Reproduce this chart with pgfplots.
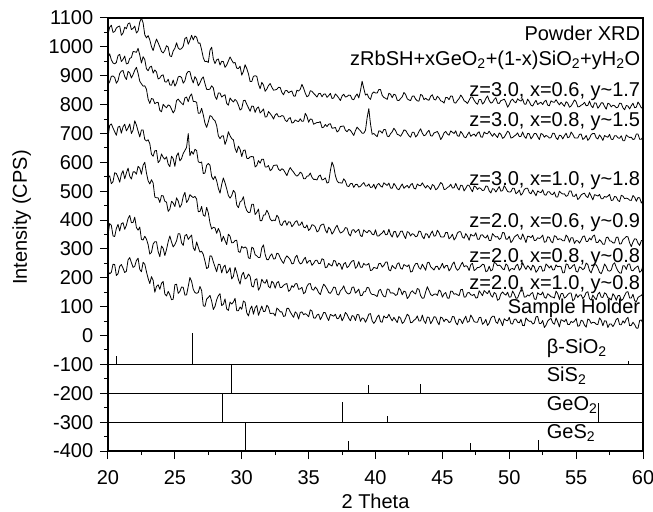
\documentclass[border=0pt]{standalone}
\usepackage{pgfplots}
\pgfplotsset{compat=1.18}
\usepackage{fontspec}
\setmainfont{Liberation Sans}
\begin{document}
\fontsize{20bp}{24bp}\selectfont
\begin{tikzpicture}
\begin{axis}[
  scale only axis, width=535bp, height=433bp,
  xmin=20, xmax=60, ymin=-400, ymax=1100,
  xtick={20,25,...,60}, ytick={-400,-300,...,1100},
  minor x tick num=1, minor y tick num=1,
  tick align=outside, tick pos=left,
  major tick length=8bp, minor tick length=4bp,
  axis line style={line width=1.3bp},
  every tick/.style={black, line width=1bp},
  /pgf/number format/assume math mode=true,
  /pgf/number format/1000 sep={},
  font=\fontsize{20bp}{24bp}\selectfont,
  xticklabel shift=5bp,
  xlabel={2 Theta}, ylabel={Intensity (CPS)},
  ylabel style={xshift=17bp, yshift=4bp},
  xlabel style={yshift=-1bp, inner sep=1bp},
  every axis plot/.append style={line join=round},
]
\coordinate (BL) at (rel axis cs:0,0);
\coordinate (TR) at (rel axis cs:1,1);
% curve 1: z=3.0, x=0.6
\addplot[black, line width=0.8bp] coordinates {(20,1043)(20.125,1068)(20.25,1075)(20.375,1050)(20.5,1053)(20.625,1065)(20.75,1070)(20.875,1072)(21,1040)(21.125,1048)(21.25,1068)(21.375,1063)(21.5,1080)(21.625,1083)(21.75,1060)(21.875,1064)(22,1072)(22.125,1048)(22.25,1055)(22.375,1086)(22.5,1100)(22.625,1083)(22.75,1042)(22.875,1031)(23,1039)(23.125,1024)(23.25,1001)(23.375,987)(23.5,1009)(23.625,1027)(23.75,1014)(23.875,1000)(24,984)(24.125,979)(24.25,988)(24.375,1004)(24.5,999)(24.625,969)(24.75,966)(24.875,986)(25,995)(25.125,1014)(25.25,996)(25.375,991)(25.5,994)(25.625,1002)(25.75,1029)(25.875,1033)(26,1009)(26.125,1023)(26.25,1040)(26.375,1024)(26.5,1038)(26.625,1033)(26.75,1013)(26.875,1013)(27,990)(27.125,962)(27.25,949)(27.375,950)(27.5,946)(27.625,988)(27.75,999)(27.875,958)(28,942)(28.125,955)(28.25,958)(28.375,937)(28.5,950)(28.625,949)(28.75,929)(28.875,937)(29,951)(29.125,965)(29.25,954)(29.375,944)(29.5,946)(29.625,926)(29.75,925)(29.875,933)(30,902)(30.125,915)(30.25,938)(30.375,925)(30.5,907)(30.625,880)(30.75,880)(30.875,898)(31,900)(31.125,898)(31.25,871)(31.375,855)(31.5,877)(31.625,868)(31.75,846)(31.875,854)(32,866)(32.125,873)(32.25,860)(32.375,850)(32.5,851)(32.625,853)(32.75,860)(32.875,859)(33,842)(33.125,834)(33.25,848)(33.375,849)(33.5,841)(33.625,845)(33.75,847)(33.875,830)(34,829)(34.125,850)(34.25,847)(34.375,853)(34.5,870)(34.625,857)(34.75,839)(34.875,827)(35,831)(35.125,848)(35.25,846)(35.375,839)(35.5,833)(35.625,826)(35.75,838)(35.875,839)(36,827)(36.125,836)(36.25,837)(36.375,825)(36.5,831)(36.625,839)(36.75,821)(36.875,823)(37,837)(37.125,831)(37.25,823)(37.375,814)(37.5,830)(37.625,836)(37.75,826)(37.875,828)(38,833)(38.125,832)(38.25,819)(38.375,817)(38.5,829)(38.625,837)(38.75,823)(38.875,848)(39,881)(39.125,856)(39.25,833)(39.375,837)(39.5,824)(39.625,818)(39.75,838)(39.875,844)(40,840)(40.125,840)(40.25,852)(40.375,852)(40.5,832)(40.625,825)(40.75,822)(40.875,818)(41,839)(41.125,836)(41.25,824)(41.375,836)(41.5,833)(41.625,815)(41.75,814)(41.875,821)(42,827)(42.125,842)(42.25,835)(42.375,820)(42.5,816)(42.625,814)(42.75,829)(42.875,830)(43,819)(43.125,813)(43.25,812)(43.375,835)(43.5,832)(43.625,817)(43.75,822)(43.875,817)(44,815)(44.125,829)(44.25,834)(44.375,818)(44.5,816)(44.625,829)(44.75,823)(44.875,813)(45,811)(45.125,805)(45.25,825)(45.375,824)(45.5,817)(45.625,830)(45.75,829)(45.875,807)(46,805)(46.125,814)(46.25,821)(46.375,833)(46.5,825)(46.625,813)(46.75,810)(46.875,804)(47,815)(47.125,826)(47.25,826)(47.375,815)(47.5,806)(47.625,801)(47.75,818)(47.875,818)(48,802)(48.125,808)(48.25,821)(48.375,830)(48.5,814)(48.625,805)(48.75,808)(48.875,818)(49,824)(49.125,805)(49.25,804)(49.375,814)(49.5,816)(49.625,819)(49.75,808)(49.875,791)(50,800)(50.125,814)(50.25,819)(50.375,810)(50.5,806)(50.625,820)(50.75,815)(50.875,812)(51,820)(51.125,802)(51.25,801)(51.375,819)(51.5,810)(51.625,798)(51.75,795)(51.875,806)(52,815)(52.125,800)(52.25,805)(52.375,808)(52.5,800)(52.625,811)(52.75,815)(52.875,798)(53,796)(53.125,813)(53.25,809)(53.375,808)(53.5,817)(53.625,807)(53.75,799)(53.875,808)(54,801)(54.125,794)(54.25,810)(54.375,805)(54.5,791)(54.625,795)(54.75,805)(54.875,816)(55,810)(55.125,792)(55.25,793)(55.375,798)(55.5,801)(55.625,808)(55.75,796)(55.875,797)(56,812)(56.125,796)(56.25,789)(56.375,806)(56.5,805)(56.625,787)(56.75,795)(56.875,806)(57,806)(57.125,794)(57.25,784)(57.375,805)(57.5,802)(57.625,792)(57.75,798)(57.875,796)(58,789)(58.125,791)(58.25,805)(58.375,804)(58.5,789)(58.625,782)(58.75,797)(58.875,795)(59,785)(59.125,796)(59.25,805)(59.375,789)(59.5,791)(59.625,809)(59.75,800)(59.875,789)(60,787)};
% curve 2: z=3.0, x=0.8
\addplot[black, line width=0.8bp] coordinates {(20,962)(20.125,976)(20.25,955)(20.375,944)(20.5,941)(20.625,946)(20.75,970)(20.875,974)(21,949)(21.125,957)(21.25,968)(21.375,941)(21.5,943)(21.625,960)(21.75,963)(21.875,984)(22,983)(22.125,981)(22.25,995)(22.375,972)(22.5,944)(22.625,966)(22.75,956)(22.875,924)(23,917)(23.125,930)(23.25,933)(23.375,909)(23.5,920)(23.625,913)(23.75,889)(23.875,892)(24,901)(24.125,903)(24.25,879)(24.375,878)(24.5,888)(24.625,868)(24.75,867)(24.875,885)(25,864)(25.125,875)(25.25,896)(25.375,898)(25.5,894)(25.625,874)(25.75,883)(25.875,907)(26,915)(26.125,914)(26.25,890)(26.375,875)(26.5,897)(26.625,887)(26.75,865)(26.875,875)(27,889)(27.125,896)(27.25,873)(27.375,853)(27.5,852)(27.625,854)(27.75,865)(27.875,858)(28,829)(28.125,818)(28.25,840)(28.375,840)(28.5,826)(28.625,831)(28.75,834)(28.875,804)(29,798)(29.125,823)(29.25,815)(29.375,809)(29.5,818)(29.625,812)(29.75,798)(29.875,781)(30,786)(30.125,814)(30.25,815)(30.375,801)(30.5,789)(30.625,777)(30.75,795)(30.875,794)(31,773)(31.125,787)(31.25,792)(31.375,771)(31.5,777)(31.625,785)(31.75,757)(31.875,758)(32,776)(32.125,769)(32.25,761)(32.375,750)(32.5,764)(32.625,769)(32.75,758)(32.875,758)(33,762)(33.125,760)(33.25,746)(33.375,741)(33.5,751)(33.625,755)(33.75,736)(33.875,738)(34,747)(34.125,743)(34.25,741)(34.375,751)(34.5,742)(34.625,743)(34.75,770)(34.875,759)(35,739)(35.125,750)(35.25,749)(35.375,732)(35.5,735)(35.625,738)(35.75,738)(35.875,741)(36,720)(36.125,722)(36.25,731)(36.375,724)(36.5,732)(36.625,734)(36.75,718)(36.875,719)(37,721)(37.125,705)(37.25,710)(37.375,724)(37.5,725)(37.625,726)(37.75,711)(37.875,706)(38,714)(38.125,711)(38.25,702)(38.375,693)(38.5,710)(38.625,722)(38.75,715)(38.875,709)(39,701)(39.125,701)(39.25,711)(39.375,755)(39.5,786)(39.625,733)(39.75,697)(39.875,700)(40,694)(40.125,689)(40.25,709)(40.375,708)(40.5,701)(40.625,714)(40.75,713)(40.875,691)(41,689)(41.125,699)(41.25,706)(41.375,718)(41.5,710)(41.625,697)(41.75,695)(41.875,690)(42,700)(42.125,712)(42.25,711)(42.375,701)(42.5,692)(42.625,687)(42.75,704)(42.875,704)(43,688)(43.125,694)(43.25,707)(43.375,716)(43.5,701)(43.625,692)(43.75,695)(43.875,705)(44,711)(44.125,692)(44.25,691)(44.375,702)(44.5,704)(44.625,707)(44.75,696)(44.875,679)(45,688)(45.125,702)(45.25,707)(45.375,698)(45.5,694)(45.625,709)(45.75,704)(45.875,700)(46,709)(46.125,692)(46.25,690)(46.375,707)(46.5,699)(46.625,688)(46.75,685)(46.875,696)(47,705)(47.125,690)(47.25,695)(47.375,698)(47.5,690)(47.625,701)(47.75,706)(47.875,688)(48,687)(48.125,705)(48.25,700)(48.375,699)(48.5,708)(48.625,698)(48.75,690)(48.875,700)(49,693)(49.125,686)(49.25,702)(49.375,697)(49.5,683)(49.625,687)(49.75,697)(49.875,708)(50,703)(50.125,684)(50.25,686)(50.375,691)(50.5,695)(50.625,702)(50.75,689)(50.875,690)(51,705)(51.125,690)(51.25,683)(51.375,700)(51.5,699)(51.625,681)(51.75,689)(51.875,700)(52,700)(52.125,689)(52.25,679)(52.375,700)(52.5,697)(52.625,687)(52.75,693)(52.875,690)(53,684)(53.125,686)(53.25,701)(53.375,700)(53.5,685)(53.625,679)(53.75,694)(53.875,692)(54,681)(54.125,692)(54.25,701)(54.375,685)(54.5,688)(54.625,705)(54.75,697)(54.875,685)(55,684)(55.125,684)(55.25,697)(55.375,698)(55.5,679)(55.625,684)(55.75,693)(55.875,676)(56,683)(56.125,696)(56.25,700)(56.375,700)(56.5,685)(56.625,681)(56.75,695)(56.875,687)(57,676)(57.125,693)(57.25,689)(57.375,687)(57.5,697)(57.625,680)(57.75,679)(57.875,692)(58,692)(58.125,685)(58.25,683)(58.375,692)(58.5,675)(58.625,675)(58.75,695)(58.875,689)(59,686)(59.125,687)(59.25,679)(59.375,681)(59.5,698)(59.625,698)(59.75,680)(59.875,680)(60,688)};
% curve 3: z=3.0, x=1.0
\addplot[black, line width=0.8bp] coordinates {(20,869)(20.125,879)(20.25,898)(20.375,899)(20.5,894)(20.625,874)(20.75,883)(20.875,908)(21,916)(21.125,918)(21.25,897)(21.375,887)(21.5,915)(21.625,910)(21.75,892)(21.875,904)(22,919)(22.125,929)(22.25,908)(22.375,881)(22.5,872)(22.625,864)(22.75,865)(22.875,853)(23,819)(23.125,804)(23.25,821)(23.375,819)(23.5,803)(23.625,807)(23.75,808)(23.875,780)(24,775)(24.125,801)(24.25,794)(24.375,789)(24.5,799)(24.625,796)(24.75,784)(24.875,771)(25,781)(25.125,814)(25.25,819)(25.375,811)(25.5,805)(25.625,799)(25.75,823)(25.875,826)(26,810)(26.125,829)(26.25,837)(26.375,811)(26.5,811)(26.625,808)(26.75,770)(26.875,770)(27,787)(27.125,764)(27.25,736)(27.375,721)(27.5,740)(27.625,762)(27.75,759)(27.875,749)(28,744)(28.125,727)(28.25,692)(28.375,682)(28.5,691)(28.625,692)(28.75,662)(28.875,678)(29,706)(29.125,692)(29.25,682)(29.375,678)(29.5,648)(29.625,634)(29.75,656)(29.875,645)(30,620)(30.125,641)(30.25,643)(30.375,614)(30.5,613)(30.625,619)(30.75,620)(30.875,619)(31,584)(31.125,589)(31.25,606)(31.375,597)(31.5,611)(31.625,611)(31.75,584)(31.875,584)(32,589)(32.125,571)(32.25,576)(32.375,589)(32.5,590)(32.625,591)(32.75,576)(32.875,571)(33,578)(33.125,574)(33.25,564)(33.375,554)(33.5,570)(33.625,582)(33.75,573)(33.875,566)(34,557)(34.125,552)(34.25,557)(34.375,566)(34.5,561)(34.625,543)(34.75,543)(34.875,552)(35,553)(35.125,563)(35.25,548)(35.375,541)(35.5,541)(35.625,539)(35.75,552)(35.875,556)(36,539)(36.125,541)(36.25,546)(36.375,528)(36.5,531)(36.625,571)(36.75,601)(36.875,586)(37,554)(37.125,536)(37.25,529)(37.375,529)(37.5,528)(37.625,543)(37.75,535)(37.875,518)(38,516)(38.125,526)(38.25,527)(38.375,513)(38.5,523)(38.625,524)(38.75,514)(38.875,517)(39,524)(39.125,530)(39.25,518)(39.375,518)(39.5,525)(39.625,513)(39.75,514)(39.875,524)(40,508)(40.125,522)(40.25,527)(40.375,518)(40.5,514)(40.625,529)(40.75,524)(40.875,520)(41,528)(41.125,511)(41.25,510)(41.375,527)(41.5,519)(41.625,508)(41.75,505)(41.875,516)(42,525)(42.125,510)(42.25,516)(42.375,520)(42.5,511)(42.625,522)(42.75,527)(42.875,510)(43,508)(43.125,525)(43.25,520)(43.375,519)(43.5,529)(43.625,519)(43.75,511)(43.875,520)(44,514)(44.125,506)(44.25,523)(44.375,519)(44.5,505)(44.625,509)(44.75,519)(44.875,530)(45,525)(45.125,506)(45.25,507)(45.375,513)(45.5,516)(45.625,524)(45.75,511)(45.875,512)(46,527)(46.125,512)(46.25,504)(46.375,521)(46.5,519)(46.625,501)(46.75,510)(46.875,521)(47,520)(47.125,508)(47.25,498)(47.375,518)(47.5,515)(47.625,506)(47.75,512)(47.875,509)(48,502)(48.125,504)(48.25,518)(48.375,517)(48.5,501)(48.625,494)(48.75,509)(48.875,507)(49,497)(49.125,507)(49.25,516)(49.375,500)(49.5,502)(49.625,519)(49.75,510)(49.875,499)(50,497)(50.125,498)(50.25,510)(50.375,510)(50.5,491)(50.625,496)(50.75,504)(50.875,486)(51,493)(51.125,506)(51.25,510)(51.375,510)(51.5,495)(51.625,491)(51.75,504)(51.875,495)(52,484)(52.125,501)(52.25,497)(52.375,495)(52.5,505)(52.625,488)(52.75,486)(52.875,498)(53,498)(53.125,490)(53.25,488)(53.375,497)(53.5,480)(53.625,480)(53.75,500)(53.875,494)(54,490)(54.125,491)(54.25,482)(54.375,485)(54.5,501)(54.625,501)(54.75,483)(54.875,482)(55,490)(55.125,471)(55.25,477)(55.375,487)(55.5,491)(55.625,493)(55.75,482)(55.875,478)(56,495)(56.125,483)(56.25,470)(56.375,488)(56.5,486)(56.625,483)(56.75,489)(56.875,474)(57,474)(57.125,482)(57.25,479)(57.375,483)(57.5,489)(57.625,468)(57.75,469)(57.875,482)(58,480)(58.125,468)(58.25,464)(58.375,486)(58.5,483)(58.625,474)(58.75,476)(58.875,474)(59,469)(59.125,468)(59.25,485)(59.375,479)(59.5,465)(59.625,478)(59.75,477)(59.875,459)(60,468)};
% curve 4: z=2.0, x=0.6
\addplot[black, line width=0.8bp] coordinates {(20,687)(20.125,728)(20.25,733)(20.375,719)(20.5,706)(20.625,694)(20.75,722)(20.875,725)(21,701)(21.125,723)(21.25,732)(21.375,709)(21.5,719)(21.625,733)(21.75,700)(21.875,712)(22,744)(22.125,729)(22.25,708)(22.375,688)(22.5,712)(22.625,712)(22.75,679)(22.875,674)(23,678)(23.125,665)(23.25,628)(23.375,621)(23.5,640)(23.625,641)(23.75,599)(23.875,606)(24,629)(24.125,617)(24.25,611)(24.375,619)(24.5,594)(24.625,585)(24.75,621)(24.875,613)(25,586)(25.125,622)(25.25,633)(25.375,605)(25.5,613)(25.625,631)(25.75,641)(25.875,652)(26,700)(26.125,623)(26.25,638)(26.375,628)(26.5,645)(26.625,641)(26.75,602)(26.875,599)(27,601)(27.125,561)(27.25,563)(27.375,590)(27.5,596)(27.625,590)(27.75,551)(27.875,540)(28,552)(28.125,536)(28.25,510)(28.375,493)(28.5,523)(28.625,546)(28.75,529)(28.875,508)(29,485)(29.125,476)(29.25,485)(29.375,503)(29.5,495)(29.625,452)(29.75,443)(29.875,463)(30,467)(30.125,481)(30.25,449)(30.375,433)(30.5,426)(30.625,427)(30.75,455)(30.875,455)(31,419)(31.125,427)(31.25,438)(31.375,398)(31.5,398)(31.625,417)(31.75,418)(31.875,434)(32,423)(32.125,404)(32.25,397)(32.375,400)(32.5,398)(32.625,417)(32.75,409)(32.875,385)(33,381)(33.125,394)(33.25,398)(33.375,382)(33.5,394)(33.625,393)(33.75,377)(33.875,384)(34,394)(34.125,398)(34.25,382)(34.375,383)(34.5,394)(34.625,376)(34.75,373)(34.875,383)(35,364)(35.125,370)(35.25,384)(35.375,382)(35.5,376)(35.625,359)(35.75,363)(35.875,380)(36,385)(36.125,386)(36.25,366)(36.375,355)(36.5,375)(36.625,368)(36.75,351)(36.875,360)(37,373)(37.125,382)(37.25,367)(37.375,355)(37.5,358)(37.625,363)(37.75,374)(37.875,372)(38,352)(38.125,345)(38.25,365)(38.375,367)(38.5,357)(38.625,363)(38.75,368)(38.875,346)(39,343)(39.125,366)(39.25,360)(39.375,356)(39.5,364)(39.625,361)(39.75,351)(39.875,349)(40,366)(40.125,345)(40.25,345)(40.375,351)(40.5,355)(40.625,364)(40.75,349)(40.875,350)(41,368)(41.125,350)(41.25,341)(41.375,360)(41.5,360)(41.625,340)(41.75,348)(41.875,361)(42,362)(42.125,347)(42.25,336)(42.375,360)(42.5,357)(42.625,345)(42.75,353)(42.875,350)(43,342)(43.125,345)(43.25,362)(43.375,360)(43.5,343)(43.625,335)(43.75,353)(43.875,351)(44,338)(44.125,352)(44.25,362)(44.375,344)(44.5,346)(44.625,365)(44.75,356)(44.875,342)(45,341)(45.125,342)(45.25,357)(45.375,357)(45.5,335)(45.625,341)(45.75,351)(45.875,331)(46,339)(46.125,355)(46.25,360)(46.375,359)(46.5,341)(46.625,337)(46.75,353)(46.875,344)(47,330)(47.125,351)(47.25,346)(47.375,345)(47.5,356)(47.625,334)(47.75,333)(47.875,348)(48,349)(48.125,341)(48.25,338)(48.375,348)(48.5,329)(48.625,329)(48.75,353)(48.875,346)(49,341)(49.125,343)(49.25,333)(49.375,337)(49.5,357)(49.625,356)(49.75,334)(49.875,334)(50,344)(50.125,322)(50.25,329)(50.375,341)(50.5,346)(50.625,350)(50.75,337)(50.875,333)(51,352)(51.125,338)(51.25,322)(51.375,344)(51.5,343)(51.625,339)(51.75,347)(51.875,329)(52,330)(52.125,339)(52.25,336)(52.375,340)(52.5,348)(52.625,323)(52.75,325)(52.875,342)(53,340)(53.125,326)(53.25,321)(53.375,346)(53.5,343)(53.625,332)(53.75,335)(53.875,334)(54,328)(54.125,328)(54.25,348)(54.375,341)(54.5,323)(54.625,339)(54.75,339)(54.875,319)(55,329)(55.125,328)(55.25,320)(55.375,330)(55.5,343)(55.625,345)(55.75,326)(55.875,326)(56,338)(56.125,331)(56.25,344)(56.375,348)(56.5,322)(56.625,322)(56.75,332)(56.875,326)(57,316)(57.125,316)(57.25,339)(57.375,341)(57.5,328)(57.625,327)(57.75,321)(57.875,321)(58,340)(58.125,341)(58.25,317)(58.375,318)(58.5,332)(58.625,337)(58.75,343)(58.875,342)(59,321)(59.125,308)(59.25,324)(59.375,335)(59.5,334)(59.625,320)(59.75,312)(59.875,329)(60,329)};
% curve 5: z=2.0, x=0.8
\addplot[black, line width=0.8bp] coordinates {(20,548)(20.125,553)(20.25,526)(20.375,533)(20.5,564)(20.625,561)(20.75,548)(20.875,531)(21,559)(21.125,571)(21.25,543)(21.375,563)(21.5,580)(21.625,552)(21.75,542)(21.875,567)(22,567)(22.125,559)(22.25,586)(22.375,580)(22.5,559)(22.625,590)(22.75,600)(22.875,563)(23,536)(23.125,525)(23.25,540)(23.375,528)(23.5,480)(23.625,477)(23.75,477)(23.875,461)(24,485)(24.125,484)(24.25,465)(24.375,462)(24.5,430)(24.625,438)(24.75,465)(24.875,459)(25,447)(25.125,477)(25.25,466)(25.375,444)(25.5,454)(25.625,482)(25.75,496)(25.875,461)(26,470)(26.125,488)(26.25,482)(26.375,478)(26.5,482)(26.625,473)(26.75,429)(26.875,430)(27,447)(27.125,417)(27.25,413)(27.375,444)(27.5,425)(27.625,390)(27.75,369)(27.875,375)(28,373)(28.125,354)(28.25,371)(28.375,358)(28.5,326)(28.625,344)(28.75,329)(28.875,315)(29,351)(29.125,344)(29.25,321)(29.375,322)(29.5,329)(29.625,330)(29.75,291)(29.875,288)(30,309)(30.125,303)(30.25,307)(30.375,302)(30.5,269)(30.625,267)(30.75,306)(30.875,302)(31,280)(31.125,276)(31.25,270)(31.375,271)(31.5,304)(31.625,314)(31.75,281)(31.875,263)(32,263)(32.125,276)(32.25,283)(32.375,265)(32.5,266)(32.625,285)(32.75,283)(32.875,269)(33,258)(33.125,250)(33.25,267)(33.375,276)(33.5,270)(33.625,263)(33.75,248)(33.875,250)(34,271)(34.125,278)(34.25,258)(34.375,248)(34.5,251)(34.625,263)(34.75,271)(34.875,250)(35,258)(35.125,260)(35.25,243)(35.375,250)(35.5,260)(35.625,261)(35.75,249)(35.875,250)(36,266)(36.125,263)(36.25,235)(36.375,237)(36.5,250)(36.625,244)(36.75,241)(36.875,260)(37,258)(37.125,240)(37.25,251)(37.375,246)(37.5,229)(37.625,248)(37.75,253)(37.875,235)(38,240)(38.125,251)(38.25,258)(38.375,260)(38.5,233)(38.625,239)(38.75,256)(38.875,237)(39,236)(39.125,250)(39.25,244)(39.375,245)(39.5,250)(39.625,225)(39.75,227)(39.875,236)(40,234)(40.125,232)(40.25,249)(40.375,250)(40.5,237)(40.625,243)(40.75,254)(40.875,255)(41,228)(41.125,224)(41.25,243)(41.375,236)(41.5,231)(41.625,248)(41.75,252)(41.875,233)(42,230)(42.125,246)(42.25,242)(42.375,239)(42.5,245)(42.625,220)(42.75,222)(42.875,239)(43,249)(43.125,250)(43.25,235)(43.375,230)(43.5,247)(43.625,237)(43.75,226)(43.875,252)(44,254)(44.125,238)(44.25,233)(44.375,227)(44.5,239)(44.625,240)(44.75,228)(44.875,237)(45,250)(45.125,233)(45.25,242)(45.375,243)(45.5,224)(45.625,232)(45.75,247)(45.875,255)(46,235)(46.125,226)(46.25,231)(46.375,244)(46.5,254)(46.625,238)(46.75,242)(46.875,239)(47,225)(47.125,246)(47.25,250)(47.375,225)(47.5,229)(47.625,236)(47.75,236)(47.875,240)(48,247)(48.125,245)(48.25,221)(48.375,224)(48.5,240)(48.625,224)(48.75,228)(48.875,254)(49,250)(49.125,242)(49.25,244)(49.375,240)(49.5,231)(49.625,228)(49.75,248)(49.875,243)(50,223)(50.125,231)(50.25,232)(50.375,228)(50.5,242)(50.625,247)(50.75,226)(50.875,233)(51,252)(51.125,239)(51.25,229)(51.375,242)(51.5,236)(51.625,226)(51.75,244)(51.875,238)(52,219)(52.125,226)(52.25,239)(52.375,240)(52.5,223)(52.625,225)(52.75,248)(52.875,242)(53,234)(53.125,242)(53.25,227)(53.375,228)(53.5,245)(53.625,238)(53.75,240)(53.875,238)(54,217)(54.125,218)(54.25,248)(54.375,246)(54.5,231)(54.625,234)(54.75,242)(54.875,246)(55,222)(55.125,220)(55.25,238)(55.375,235)(55.5,228)(55.625,233)(55.75,251)(55.875,246)(56,225)(56.125,217)(56.25,234)(56.375,245)(56.5,245)(56.625,234)(56.75,219)(56.875,214)(57,228)(57.125,248)(57.25,239)(57.375,225)(57.5,223)(57.625,227)(57.75,246)(57.875,252)(58,236)(58.125,224)(58.25,217)(58.375,216)(58.5,242)(58.625,241)(58.75,229)(58.875,247)(59,248)(59.125,226)(59.25,224)(59.375,232)(59.5,237)(59.625,241)(59.75,219)(59.875,224)(60,242)};
% curve 6: z=2.0, x=1.0
\addplot[black, line width=0.8bp] coordinates {(20,349)(20.125,388)(20.25,382)(20.375,345)(20.5,343)(20.625,371)(20.75,385)(20.875,362)(21,387)(21.125,391)(21.25,368)(21.375,382)(21.5,405)(21.625,416)(21.75,391)(21.875,392)(22,410)(22.125,374)(22.25,365)(22.375,376)(22.5,333)(22.625,331)(22.75,344)(22.875,334)(23,315)(23.125,282)(23.25,288)(23.375,317)(23.5,325)(23.625,325)(23.75,291)(23.875,273)(24,310)(24.125,302)(24.25,277)(24.375,298)(24.5,325)(24.625,345)(24.75,324)(24.875,307)(25,315)(25.125,328)(25.25,353)(25.375,352)(25.5,321)(25.625,312)(25.75,346)(25.875,350)(26,333)(26.125,341)(26.25,348)(26.375,304)(26.5,294)(26.625,324)(26.75,306)(26.875,289)(27,292)(27.125,281)(27.25,258)(27.375,232)(27.5,236)(27.625,276)(27.75,275)(27.875,255)(28,238)(28.125,221)(28.25,247)(28.375,246)(28.5,217)(28.625,237)(28.75,244)(28.875,216)(29,223)(29.125,235)(29.25,196)(29.375,205)(29.5,236)(29.625,218)(29.75,194)(29.875,178)(30,209)(30.125,219)(30.25,196)(30.375,200)(30.5,213)(30.625,205)(30.75,171)(30.875,168)(31,193)(31.125,197)(31.25,157)(31.375,168)(31.5,195)(31.625,185)(31.75,181)(31.875,194)(32,170)(32.125,165)(32.25,188)(32.375,182)(32.5,164)(32.625,183)(32.75,187)(32.875,166)(33,167)(33.125,174)(33.25,178)(33.375,180)(33.5,153)(33.625,158)(33.75,173)(33.875,167)(34,179)(34.125,180)(34.25,160)(34.375,162)(34.5,167)(34.625,145)(34.75,150)(34.875,170)(35,179)(35.125,180)(35.25,160)(35.375,157)(35.5,168)(35.625,161)(35.75,149)(35.875,142)(36,162)(36.125,178)(36.25,171)(36.375,161)(36.5,149)(36.625,146)(36.75,155)(36.875,168)(37,166)(37.125,143)(37.25,140)(37.375,155)(37.5,161)(37.625,172)(37.75,155)(37.875,147)(38,144)(38.125,148)(38.25,167)(38.375,168)(38.5,147)(38.625,153)(38.75,161)(38.875,138)(39,139)(39.125,152)(39.25,152)(39.375,167)(39.5,165)(39.625,148)(39.75,142)(39.875,142)(40,139)(40.125,135)(40.25,156)(40.375,160)(40.5,144)(40.625,135)(40.75,134)(40.875,161)(41,160)(41.125,147)(41.25,148)(41.375,146)(41.5,139)(41.625,142)(41.75,165)(41.875,158)(42,141)(42.125,154)(42.25,151)(42.375,128)(42.5,135)(42.625,149)(42.75,155)(42.875,148)(43,144)(43.125,163)(43.25,160)(43.375,138)(43.5,129)(43.625,130)(43.75,151)(43.875,169)(44,156)(44.125,142)(44.25,138)(44.375,143)(44.5,144)(44.625,139)(44.75,158)(44.875,153)(45,133)(45.125,144)(45.25,149)(45.375,130)(45.5,129)(45.625,154)(45.75,153)(45.875,143)(46,145)(46.125,141)(46.25,138)(46.375,159)(46.5,160)(46.625,133)(46.75,134)(46.875,148)(47,149)(47.125,141)(47.25,139)(47.375,143)(47.5,130)(47.625,131)(47.75,155)(47.875,147)(48,138)(48.125,156)(48.25,150)(48.375,145)(48.5,156)(48.625,140)(48.75,133)(48.875,149)(49,145)(49.125,122)(49.25,126)(49.375,144)(49.5,151)(49.625,144)(49.75,140)(49.875,150)(50,133)(50.125,134)(50.25,154)(50.375,144)(50.5,129)(50.625,130)(50.75,145)(50.875,159)(51,157)(51.125,133)(51.25,134)(51.375,141)(51.5,137)(51.625,145)(51.75,149)(51.875,127)(52,125)(52.125,148)(52.25,143)(52.375,141)(52.5,151)(52.625,133)(52.75,129)(52.875,145)(53,140)(53.125,134)(53.25,133)(53.375,130)(53.5,154)(53.625,145)(53.75,125)(53.875,145)(54,146)(54.125,130)(54.25,134)(54.375,142)(54.5,147)(54.625,147)(54.75,120)(54.875,126)(55,144)(55.125,132)(55.25,140)(55.375,141)(55.5,128)(55.625,135)(55.75,149)(55.875,152)(56,128)(56.125,122)(56.25,140)(56.375,131)(56.5,124)(56.625,143)(56.75,150)(56.875,133)(57,132)(57.125,148)(57.25,144)(57.375,131)(57.5,129)(57.625,123)(57.75,145)(57.875,137)(58,122)(58.125,138)(58.25,139)(58.375,121)(58.5,126)(58.625,139)(58.75,150)(58.875,152)(59,130)(59.125,130)(59.25,143)(59.375,121)(59.5,117)(59.625,132)(59.75,136)(59.875,139)(60,146)};
% curve 7: sample holder
\addplot[black, line width=0.8bp] coordinates {(20,222)(20.125,214)(20.25,219)(20.375,247)(20.5,246)(20.625,208)(20.75,214)(20.875,240)(21,246)(21.125,233)(21.25,218)(21.375,223)(21.5,262)(21.625,270)(21.75,253)(21.875,236)(22,240)(22.125,260)(22.25,268)(22.375,229)(22.5,221)(22.625,254)(22.75,247)(22.875,221)(23,198)(23.125,180)(23.25,204)(23.375,191)(23.5,150)(23.625,170)(23.75,176)(23.875,160)(24,181)(24.125,187)(24.25,144)(24.375,137)(24.5,153)(24.625,141)(24.75,124)(24.875,126)(25,176)(25.125,178)(25.25,146)(25.375,153)(25.5,168)(25.625,167)(25.75,140)(25.875,141)(26,170)(26.125,201)(26.25,188)(26.375,160)(26.5,149)(26.625,146)(26.75,149)(26.875,170)(27,156)(27.125,103)(27.25,101)(27.375,126)(27.5,132)(27.625,139)(27.75,119)(27.875,90)(28,101)(28.125,124)(28.25,138)(28.375,145)(28.5,104)(28.625,108)(28.75,127)(28.875,92)(29,87)(29.125,116)(29.25,109)(29.375,116)(29.5,129)(29.625,86)(29.75,86)(29.875,99)(30,91)(30.125,120)(30.25,115)(30.375,79)(30.5,68)(30.625,91)(30.75,102)(30.875,74)(31,96)(31.125,104)(31.25,70)(31.375,87)(31.5,102)(31.625,83)(31.75,84)(31.875,105)(32,98)(32.125,76)(32.25,77)(32.375,77)(32.5,68)(32.625,95)(32.75,90)(32.875,82)(33,82)(33.125,66)(33.25,68)(33.375,94)(33.5,94)(33.625,82)(33.75,72)(33.875,63)(34,82)(34.125,76)(34.25,57)(34.375,80)(34.5,82)(34.625,72)(34.75,76)(34.875,72)(35,65)(35.125,89)(35.25,85)(35.375,61)(35.5,60)(35.625,71)(35.75,74)(35.875,55)(36,66)(36.125,80)(36.25,79)(36.375,63)(36.5,52)(36.625,73)(36.75,70)(36.875,67)(37,74)(37.125,58)(37.25,60)(37.375,73)(37.5,51)(37.625,62)(37.75,80)(37.875,73)(38,60)(38.125,51)(38.25,69)(38.375,67)(38.5,52)(38.625,73)(38.75,72)(38.875,49)(39,61)(39.125,59)(39.25,46)(39.375,58)(39.5,74)(39.625,76)(39.75,51)(39.875,42)(40,50)(40.125,64)(40.25,71)(40.375,48)(40.5,46)(40.625,68)(40.75,62)(40.875,62)(41,74)(41.125,61)(41.25,51)(41.375,63)(41.5,54)(41.625,45)(41.75,66)(41.875,60)(42,42)(42.125,47)(42.25,60)(42.375,74)(42.5,68)(42.625,44)(42.75,46)(42.875,53)(43,57)(43.125,68)(43.25,50)(43.375,51)(43.5,71)(43.625,51)(43.75,42)(43.875,64)(44,63)(44.125,41)(44.25,51)(44.375,65)(44.5,64)(44.625,48)(44.75,37)(44.875,64)(45,61)(45.125,48)(45.25,57)(45.375,54)(45.5,45)(45.625,48)(45.75,66)(45.875,65)(46,45)(46.125,37)(46.25,57)(46.375,54)(46.5,41)(46.625,56)(46.75,67)(46.875,46)(47,49)(47.125,71)(47.25,61)(47.375,48)(47.5,46)(47.625,46)(47.75,62)(47.875,63)(48,39)(48.125,45)(48.25,56)(48.375,35)(48.5,43)(48.625,60)(48.75,67)(48.875,67)(49,47)(49.125,42)(49.25,60)(49.375,49)(49.5,34)(49.625,58)(49.75,53)(49.875,51)(50,63)(50.125,41)(50.25,40)(50.375,56)(50.5,57)(50.625,46)(50.75,44)(50.875,56)(51,35)(51.125,34)(51.25,61)(51.375,54)(51.5,49)(51.625,50)(51.75,40)(51.875,43)(52,65)(52.125,66)(52.25,42)(52.375,42)(52.5,52)(52.625,28)(52.75,36)(52.875,50)(53,56)(53.125,59)(53.25,44)(53.375,39)(53.5,61)(53.625,47)(53.75,30)(53.875,55)(54,52)(54.125,48)(54.25,57)(54.375,38)(54.5,38)(54.625,49)(54.75,45)(54.875,50)(55,59)(55.125,32)(55.25,34)(55.375,53)(55.5,50)(55.625,36)(55.75,29)(55.875,57)(56,54)(56.125,42)(56.25,46)(56.375,45)(56.5,39)(56.625,38)(56.75,61)(56.875,53)(57,34)(57.125,51)(57.25,50)(57.375,28)(57.5,40)(57.625,40)(57.75,31)(57.875,41)(58,56)(58.125,60)(58.25,38)(58.375,37)(58.5,51)(58.625,43)(58.75,57)(58.875,63)(59,34)(59.125,35)(59.25,46)(59.375,38)(59.5,26)(59.625,25)(59.75,52)(59.875,54)(60,41)};
% panel dividers
\addplot[black, line width=1bp] coordinates {(20,-100)(60,-100)};
\addplot[black, line width=1bp] coordinates {(20,-200)(60,-200)};
\addplot[black, line width=1bp] coordinates {(20,-300)(60,-300)};
% beta-SiO2 sticks
\addplot[black, line width=1bp] coordinates {(20.6,-100)(20.6,-72)};
\addplot[black, line width=1bp] coordinates {(26.35,-100)(26.35,8)};
\addplot[black, line width=1bp] coordinates {(58.95,-100)(58.95,-88)};
% SiS2 sticks
\addplot[black, line width=1bp] coordinates {(29.2,-200)(29.2,-100)};
\addplot[black, line width=1bp] coordinates {(39.45,-200)(39.45,-172)};
\addplot[black, line width=1bp] coordinates {(43.4,-200)(43.4,-167)};
% GeO2 sticks
\addplot[black, line width=1bp] coordinates {(28.55,-300)(28.55,-200)};
\addplot[black, line width=1bp] coordinates {(37.5,-300)(37.5,-231)};
\addplot[black, line width=1bp] coordinates {(40.9,-300)(40.9,-280)};
\addplot[black, line width=1bp] coordinates {(56.7,-300)(56.7,-233)};
% GeS2 sticks
\addplot[black, line width=1bp] coordinates {(30.3,-400)(30.3,-302)};
\addplot[black, line width=1bp] coordinates {(38.0,-400)(38.0,-366)};
\addplot[black, line width=1bp] coordinates {(47.1,-400)(47.1,-373)};
\addplot[black, line width=1bp] coordinates {(52.2,-400)(52.2,-362)};
% labels
\node[anchor=east, inner sep=0pt] at (axis cs:59.8,1048) {Powder XRD};
\node[anchor=east, inner sep=0pt] at (axis cs:59.8,952) {zRbSH+xGeO\textsubscript{2}+(1-x)SiO\textsubscript{2}+yH\textsubscript{2}O};
\node[anchor=east, inner sep=0pt] at (axis cs:59.8,844) {z=3.0, x=0.6, y\textasciitilde1.7};
\node[anchor=east, inner sep=0pt] at (axis cs:59.8,740) {z=3.0, x=0.8, y\textasciitilde1.5};
\node[anchor=east, inner sep=0pt] at (axis cs:59.8,536) {z=3.0, x=1.0, y\textasciitilde1.8};
\node[anchor=east, inner sep=0pt] at (axis cs:59.8,391) {z=2.0, x=0.6, y\textasciitilde0.9};
\node[anchor=east, inner sep=0pt] at (axis cs:59.8,270) {z=2.0, x=0.8, y\textasciitilde0.8};
\node[anchor=east, inner sep=0pt] at (axis cs:59.8,176) {z=2.0, x=1.0, y\textasciitilde0.8};
\node[anchor=east, inner sep=0pt] at (axis cs:59.8,93) {Sample Holder};
\node[anchor=west, inner sep=0pt] at (axis cs:52.8,-45) {β-SiO\textsubscript{2}};
\node[anchor=west, inner sep=0pt] at (axis cs:52.8,-138) {SiS\textsubscript{2}};
\node[anchor=west, inner sep=0pt] at (axis cs:52.8,-240) {GeO\textsubscript{2}};
\node[anchor=west, inner sep=0pt] at (axis cs:52.8,-338) {GeS\textsubscript{2}};
\end{axis}
\pgfresetboundingbox
\path ([shift={(-108bp,-61bp)}]BL) rectangle ([shift={(10bp,18bp)}]TR);
\end{tikzpicture}
\end{document}
